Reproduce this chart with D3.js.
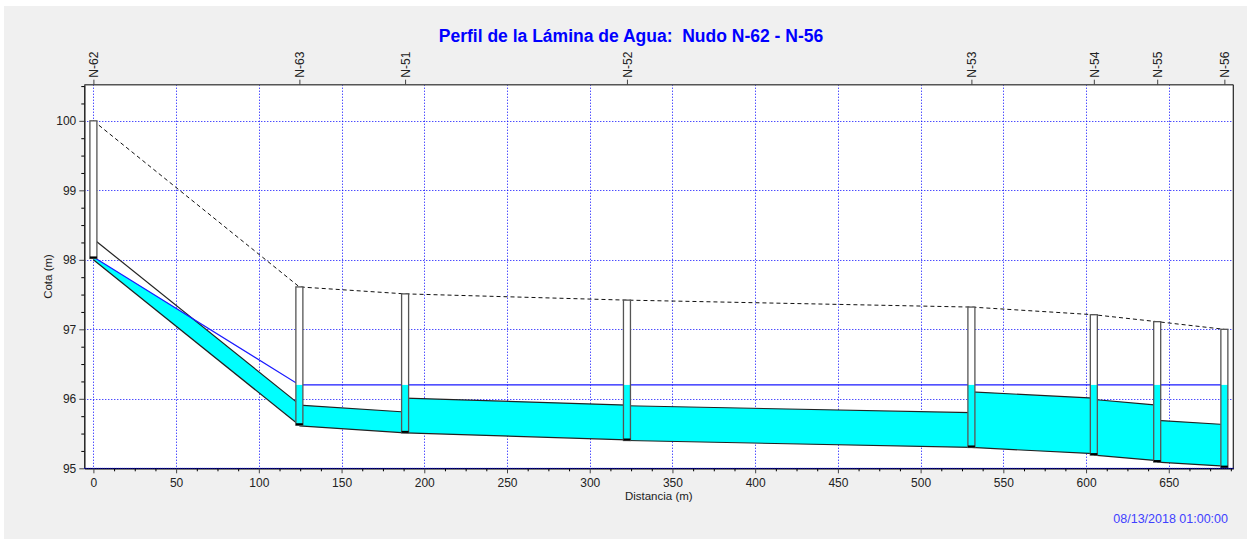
<!DOCTYPE html>
<html>
<head>
<meta charset="utf-8">
<script src="https://cdn.jsdelivr.net/npm/d3@7"></script>
<style>
  body { margin: 0; background: #fff; }
  svg text { font-family: Arial, "Liberation Sans", sans-serif; }
</style>
</head>
<body>
<svg id="chart" width="1247" height="539"></svg>
<script>
// nodes along the profile
const nodeNames = ['N-62', 'N-63', 'N-51', 'N-52', 'N-53', 'N-54', 'N-55', 'N-56'];
const nodeDist = [0, 124.5, 188.4, 322.5, 530.7, 604.7, 643, 683.6];
const nodeInvert = [98.02, 95.62, 95.51, 95.40, 95.30, 95.19, 95.09, 95.01];
const nodeRim = [100.0, 97.61, 97.51, 97.42, 97.32, 97.21, 97.11, 97.0];
const nodeHead = [98.04, 96.2, 96.2, 96.2, 96.2, 96.2, 96.2, 96.2];

// conduits between consecutive nodes
const linkInvUp = [98.0, 95.61, 95.51, 95.40, 95.30, 95.19, 95.09];
const linkInvDn = [95.62, 95.51, 95.41, 95.30, 95.21, 95.11, 95.03];
const linkDiam = [0.3, 0.3, 0.5, 0.5, 0.8, 0.8, 0.6];

const xTicks = [0, 50, 100, 150, 200, 250, 300, 350, 400, 450, 500, 550, 600, 650];
const yTicks = [95, 96, 97, 98, 99, 100];

const svg = d3.select('#chart');
const W = 1247, H = 539;
const plot = { left: 84.3, right: 1233.3, top: 84.7, bottom: 468.3 };

svg.append('rect').attr('x', 4).attr('y', 6).attr('width', W - 4).attr('height', H - 6).attr('fill', '#f0f0f0');
svg.append('rect')
    .attr('x', plot.left).attr('y', plot.top)
    .attr('width', plot.right - plot.left).attr('height', plot.bottom - plot.top)
    .attr('fill', '#fff');

const x = d3.scaleLinear().domain([-5.5, 689]).range([plot.left, plot.right]);
const y = d3.scaleLinear().domain([95, 100.52]).range([plot.bottom, plot.top]);

// grid
const grid = svg.append('g')
    .attr('stroke', '#0000ff').attr('stroke-width', 1).attr('stroke-dasharray', '1,2');
grid.selectAll('.vg').data(xTicks).enter().append('line')
    .attr('x1', d => Math.round(x(d)) + 0.5).attr('x2', d => Math.round(x(d)) + 0.5)
    .attr('y1', plot.top).attr('y2', plot.bottom);
grid.selectAll('.hg').data(yTicks).enter().append('line')
    .attr('y1', d => Math.round(y(d)) + 0.5).attr('y2', d => Math.round(y(d)) + 0.5)
    .attr('x1', plot.left).attr('x2', plot.right);

// water inside the conduits
const links = d3.range(linkDiam.length).map(i => {
    const x0 = nodeDist[i], x1 = nodeDist[i + 1];
    const c0 = linkInvUp[i] + linkDiam[i], c1 = linkInvDn[i] + linkDiam[i];
    const h0 = nodeHead[i], h1 = nodeHead[i + 1];
    const top = [[x0, Math.min(h0, c0)]];
    const f0 = h0 - c0, f1 = h1 - c1;
    if (f0 * f1 < 0) {
        const t = f0 / (f0 - f1);
        top.push([x0 + t * (x1 - x0), c0 + t * (c1 - c0)]);
    }
    top.push([x1, Math.min(h1, c1)]);
    return { x0, x1, c0, c1, up: linkInvUp[i], dn: linkInvDn[i], poly: top.concat([[x1, linkInvDn[i]], [x0, linkInvUp[i]]]) };
});

const line = d3.line().x(d => x(d[0])).y(d => y(d[1]));

svg.append('g').selectAll('path').data(links).enter().append('path')
    .attr('d', d => line(d.poly) + 'Z')
    .attr('fill', '#00ffff');

const lg = svg.append('g').attr('fill', 'none').attr('stroke', '#222').attr('stroke-width', 1.2);
links.forEach(l => {
    lg.append('path').attr('d', line([[l.x0, l.up], [l.x1, l.dn]]));
    lg.append('path').attr('d', line([[l.x0, l.c0], [l.x1, l.c1]]));
});

// hydraulic grade line
svg.append('path')
    .attr('d', line(nodeDist.map((d, i) => [d, nodeHead[i]])))
    .attr('fill', 'none').attr('stroke', '#1a1aff').attr('stroke-width', 1.2);

// ground line
svg.append('path')
    .attr('d', line(nodeDist.map((d, i) => [d, nodeRim[i]])))
    .attr('fill', 'none').attr('stroke', '#111').attr('stroke-width', 1)
    .attr('stroke-dasharray', '4,3');

// manholes
const bw = 7;
const nodes = svg.append('g').selectAll('g').data(nodeNames).enter().append('g');
nodes.append('rect')
    .attr('x', (d, i) => x(nodeDist[i]) - bw / 2).attr('width', bw)
    .attr('y', (d, i) => y(nodeRim[i])).attr('height', (d, i) => y(nodeInvert[i]) - y(nodeRim[i]))
    .attr('fill', '#fff');
nodes.append('rect')
    .attr('x', (d, i) => x(nodeDist[i]) - bw / 2).attr('width', bw)
    .attr('y', (d, i) => y(nodeHead[i])).attr('height', (d, i) => Math.max(0, y(nodeInvert[i]) - y(nodeHead[i])))
    .attr('fill', '#00ffff');
nodes.append('rect')
    .attr('x', (d, i) => x(nodeDist[i]) - bw / 2).attr('width', bw)
    .attr('y', (d, i) => y(nodeRim[i])).attr('height', (d, i) => y(nodeInvert[i]) - y(nodeRim[i]))
    .attr('fill', 'none').attr('stroke', '#555').attr('stroke-width', 1.3);
nodes.append('line')
    .attr('x1', (d, i) => x(nodeDist[i]) - bw / 2).attr('x2', (d, i) => x(nodeDist[i]) + bw / 2)
    .attr('y1', (d, i) => y(nodeInvert[i]) - 1).attr('y2', (d, i) => y(nodeInvert[i]) - 1)
    .attr('stroke', '#000').attr('stroke-width', 2);

// frame
svg.append('line').attr('x1', plot.left).attr('x2', plot.right).attr('y1', plot.top).attr('y2', plot.top)
    .attr('stroke', '#555').attr('stroke-width', 1.5);
svg.append('line').attr('x1', plot.right).attr('x2', plot.right).attr('y1', plot.top).attr('y2', plot.bottom)
    .attr('stroke', '#222').attr('stroke-width', 1.2);

// axes
const axisBottom = svg.append('g').attr('transform', `translate(0,${plot.bottom})`)
    .call(d3.axisBottom(x).tickValues(xTicks).tickFormat(d3.format('d')).tickSize(5).tickSizeOuter(0));
svg.append('g').attr('transform', `translate(0,${plot.bottom})`)
    .call(d3.axisBottom(x).tickValues(d3.range(0, 689, 12.5).filter(v => v % 50 !== 0)).tickFormat('').tickSize(3).tickSizeOuter(0))
    .select('.domain').remove();

const axisLeft = svg.append('g').attr('transform', `translate(${plot.left},0)`)
    .call(d3.axisLeft(y).tickValues(yTicks).tickFormat(d3.format('d')).tickSize(5).tickSizeOuter(0));
svg.append('g').attr('transform', `translate(${plot.left},0)`)
    .call(d3.axisLeft(y).tickValues(d3.range(95.25, 100.52, 0.25).filter(v => v % 1 !== 0)).tickFormat('').tickSize(3).tickSizeOuter(0))
    .select('.domain').remove();

const axisTop = svg.append('g').attr('transform', `translate(0,${plot.top})`)
    .call(d3.axisTop(x).tickValues(nodeDist).tickFormat((d, i) => nodeNames[i]).tickSize(5).tickSizeOuter(0));
axisTop.select('.domain').remove();
axisTop.selectAll('text')
    .attr('transform', 'rotate(-90)')
    .attr('x', 7).attr('y', 0).attr('dy', '0.35em')
    .attr('text-anchor', 'start');

[axisBottom, axisLeft, axisTop].forEach(a => {
    a.selectAll('text').attr('font-size', 12).attr('fill', '#222').style('font-family', 'Arial, "Liberation Sans", sans-serif');
    a.selectAll('line').attr('stroke', '#444');
});
axisBottom.select('.domain').attr('stroke', '#000').attr('stroke-width', 1.5);
axisLeft.select('.domain').attr('stroke', '#222').attr('stroke-width', 1.5);
axisBottom.selectAll('text').attr('dy', '0.9em');
svg.append('line').attr('x1', plot.left).attr('x2', plot.right).attr('y1', plot.bottom).attr('y2', plot.bottom)
    .attr('stroke', '#0000ff').attr('stroke-width', 1).attr('stroke-dasharray', '1,1');

// titles
svg.append('text')
    .attr('x', 631).attr('y', 42)
    .attr('text-anchor', 'middle')
    .attr('font-size', 17.5).attr('font-weight', 'bold').attr('fill', '#0000ff')
    .style('white-space', 'pre')
    .text('Perfil de la Lámina de Agua:  Nudo N-62 - N-56');

svg.append('text')
    .attr('transform', `translate(52,${(plot.top + plot.bottom) / 2}) rotate(-90)`)
    .attr('text-anchor', 'middle')
    .attr('font-size', 11.5).attr('fill', '#222')
    .text('Cota (m)');

svg.append('text')
    .attr('x', (plot.left + plot.right) / 2).attr('y', 500)
    .attr('text-anchor', 'middle')
    .attr('font-size', 11.5).attr('fill', '#222')
    .text('Distancia (m)');

svg.append('text')
    .attr('x', 1228).attr('y', 523)
    .attr('text-anchor', 'end')
    .attr('font-size', 12.5).attr('fill', '#4040ff')
    .text('08/13/2018 01:00:00');
</script>
</body>
</html>
